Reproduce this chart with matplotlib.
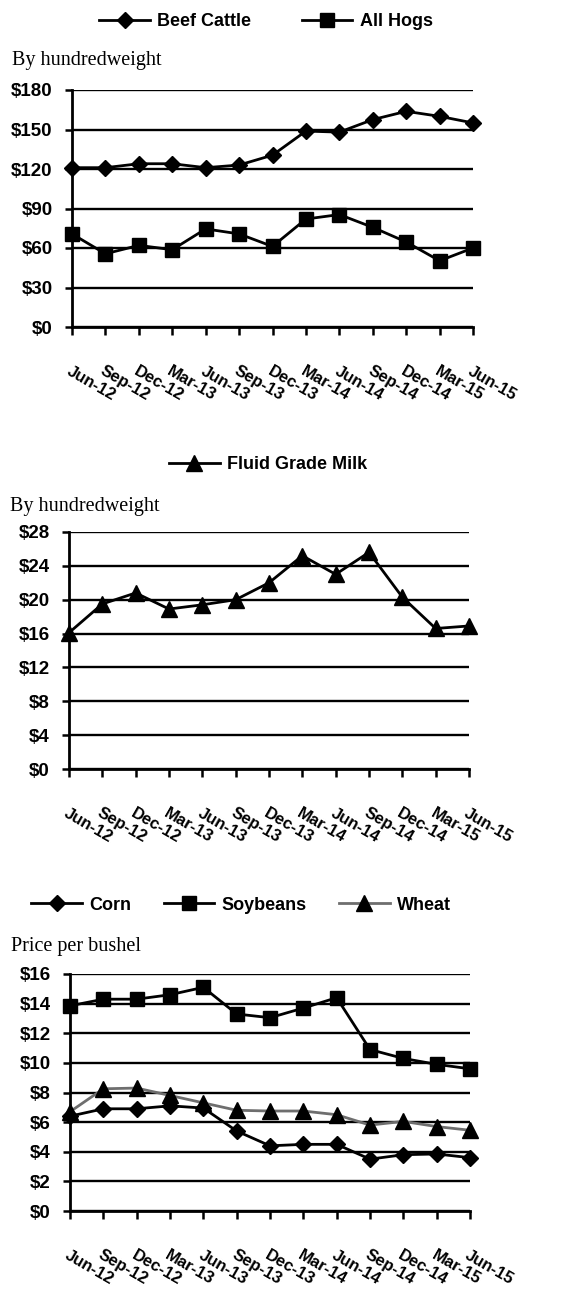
import numpy as np
import matplotlib
matplotlib.use("Agg")
import matplotlib.pyplot as plt

# quarterly dates shared by all three panels
dates = ["Jun-12", "Sep-12", "Dec-12", "Mar-13", "Jun-13", "Sep-13", "Dec-13",
         "Mar-14", "Jun-14", "Sep-14", "Dec-14", "Mar-15", "Jun-15"]

# livestock, $ per hundredweight
beef_cattle = [121, 121, 124, 124, 121, 123, 130.5, 148.8, 148, 157.5, 163.8, 160, 155]
all_hogs = [70.7, 55.6, 62, 58.7, 74.5, 70.7, 61.2, 82, 85.4, 75.7, 64.6, 50.3, 60]

# milk, $ per hundredweight
fluid_milk = [16.1, 19.5, 20.8, 18.9, 19.4, 20.0, 22.0, 25.2, 23.0, 25.6, 20.3, 16.6, 16.9]

# crops, $ per bushel
corn = [6.4, 6.9, 6.9, 7.1, 6.95, 5.4, 4.4, 4.5, 4.5, 3.5, 3.8, 3.85, 3.6]
soybeans = [13.85, 14.3, 14.3, 14.6, 15.1, 13.3, 13.05, 13.7, 14.4, 10.9, 10.3, 9.9, 9.6]
wheat = [6.7, 8.25, 8.3, 7.8, 7.3, 6.8, 6.75, 6.75, 6.5, 5.8, 6.05, 5.7, 5.45]

W, H = 562, 1289
SANS = "Liberation Sans"
SERIF = "Liberation Serif"

fig = plt.figure(figsize=(W / 100, H / 100), dpi=100)


def make_axes(left, right, top, bottom):
    # pixel box -> figure fractions
    return fig.add_axes([left / W, 1 - bottom / H, (right - left) / W, (bottom - top) / H])


def style_axes(ax, ymax, ystep):
    x = np.arange(len(dates))
    ax.set_xlim(0, len(dates) - 1)
    ax.set_ylim(0, ymax)
    ax.set_yticks(np.arange(0, ymax + ystep / 2, ystep))
    ax.set_yticklabels([f"${int(v)}" for v in ax.get_yticks()],
                       fontfamily=SANS, fontweight="bold", fontsize=13.5)
    ax.set_xticks(x)
    ax.set_xticklabels(dates, rotation=-30, ha="left", va="top", rotation_mode="anchor",
                       fontfamily=SANS, fontweight="bold", fontsize=12)
    ax.tick_params(axis="x", direction="out", length=6, width=1.8, pad=20)
    ax.tick_params(axis="y", direction="out", length=5, width=1.8, pad=9)
    for s in ["top", "right"]:
        ax.spines[s].set_visible(False)
    for s in ["left", "bottom"]:
        ax.spines[s].set_linewidth(2)
    ax.grid(axis="y", color="black", linewidth=1.7)
    ax.set_axisbelow(True)


def legend_above(ax, cx_px, y_px, spacing):
    fig.legend(*ax.get_legend_handles_labels(), loc="center", ncol=3,
               bbox_to_anchor=(cx_px / W, 1 - y_px / H),
               frameon=False, handlelength=2.8, handletextpad=0.4, columnspacing=spacing,
               prop={"family": SANS, "weight": "bold", "size": 13})


x = np.arange(len(dates))
line_kw = dict(color="black", linewidth=2, clip_on=False, zorder=3)

# --- livestock
ax1 = make_axes(72, 473, 90, 327)
ax1.plot(x, beef_cattle, marker="D", markersize=8, label="Beef Cattle", **line_kw)
ax1.plot(x, all_hogs, marker="s", markersize=10.5, label="All Hogs", **line_kw)
style_axes(ax1, 180, 30)
legend_above(ax1, 266, 22, 2.8)
fig.text(12 / W, 1 - 60 / H, "By hundredweight", family=SERIF, fontsize=14.5, va="center")

# --- milk
ax2 = make_axes(69, 469, 532, 769)
ax2.plot(x, fluid_milk, marker="^", markersize=11, label="Fluid Grade Milk", **line_kw)
style_axes(ax2, 28, 4)
legend_above(ax2, 268, 465, 2.8)
fig.text(10 / W, 1 - 506 / H, "By hundredweight", family=SERIF, fontsize=14.5, va="center")

# --- crops
ax3 = make_axes(70, 470, 974, 1211)
ax3.plot(x, corn, marker="D", markersize=8, label="Corn", **line_kw)
ax3.plot(x, soybeans, marker="s", markersize=10.5, label="Soybeans", **line_kw)
ax3.plot(x, wheat, color="#6e6e6e", linewidth=2, marker="^", markersize=11,
         markerfacecolor="black", markeredgecolor="black", clip_on=False, zorder=3, label="Wheat")
style_axes(ax3, 16, 2)
legend_above(ax3, 241, 905, 1.8)
fig.text(11 / W, 1 - 947 / H, "Price per bushel", family=SERIF, fontsize=14.5, va="center")

fig.savefig("out.png", dpi=100, facecolor="white")
